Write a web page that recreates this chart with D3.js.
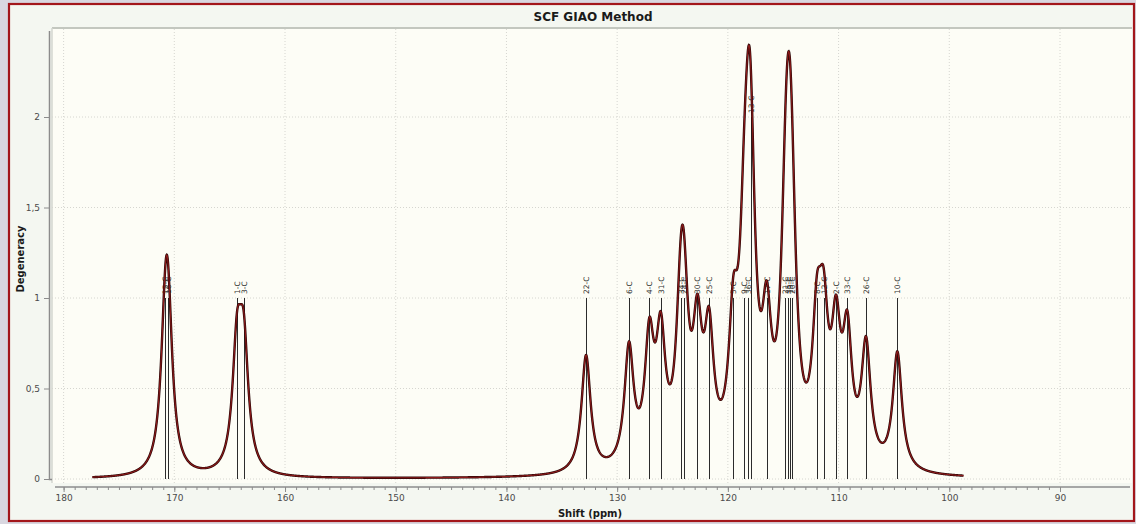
<!DOCTYPE html>
<html lang="en">
<head>
<meta charset="UTF-8">
<title>SCF GIAO Method</title>
<script src="https://cdn.jsdelivr.net/npm/d3@7/dist/d3.min.js"></script>
<style>
  html, body { margin: 0; padding: 0; background: #d9d7e0; }
  svg { display: block; font-family: "DejaVu Sans", Verdana, sans-serif; }
</style>
</head>
<body>
<div id="chart"></div>
<script>
// stick spectrum
const shifts = [170.80, 170.56, 164.33, 163.73, 132.81, 128.93, 127.09, 126.06, 124.26, 123.96,
                122.75, 121.70, 119.50, 118.55, 118.22, 117.95, 116.49, 114.82, 114.60, 114.40,
                114.21, 111.95, 111.35, 110.23, 109.21, 107.52, 104.69];
const labels = ["15-C", "16-C", "1-C", "3-C", "22-C", "6-C", "4-C", "31-C", "34-C", "24-C",
                "30-C", "25-C", "5-C", "9-C", "36-C", "13-C", "17-C", "21-C", "35-C", "19-C",
                "20-C", "8-C", "12-C", "2-C", "33-C", "26-C", "10-C"];
const degeneracy = [1, 1, 1, 1, 1, 1, 1, 1, 1, 1,
                    1, 1, 1, 1, 1, 2, 1, 1, 1, 1,
                    1, 1, 1, 1, 1, 1, 1];
const xTicks = [180, 170, 160, 150, 140, 130, 120, 110, 100, 90];
const yTicks = [0, 0.5, 1, 1.5, 2];

// lorentzian broadening used for the simulated curve
const peakHeight = 0.65;
const halfWidth = 0.5;
const curveFrom = 177.4, curveTo = 98.7;

const width = 1136, height = 524;
const plotLeft = 52, plotRight = 1132, plotTop = 28, plotBottom = 483;

const x = d3.scaleLinear().domain([180, 90]).range([63.6, 1060]);
const y = d3.scaleLinear().domain([0, 2]).range([479, 117]);

const svg = d3.select("#chart").append("svg")
    .attr("width", width)
    .attr("height", height);

// frame
svg.append("rect")
    .attr("x", 9).attr("y", 4)
    .attr("width", 1125).attr("height", 517)
    .attr("fill", "#f4f7f1")
    .attr("stroke", "#a3161b")
    .attr("stroke-width", 2.2);

svg.append("rect")
    .attr("x", plotLeft).attr("y", plotTop)
    .attr("width", plotRight - plotLeft).attr("height", plotBottom - plotTop)
    .attr("fill", "#fdfdf6");
svg.append("line")
    .attr("x1", plotLeft).attr("x2", plotRight)
    .attr("y1", plotTop).attr("y2", plotTop)
    .attr("stroke", "#c3c7bf").attr("stroke-width", 2);
svg.append("line")
    .attr("x1", plotLeft).attr("x2", plotLeft)
    .attr("y1", plotTop).attr("y2", plotBottom)
    .attr("stroke", "#d3d6cf").attr("stroke-width", 1.5);

svg.append("text")
    .attr("x", 593).attr("y", 21)
    .attr("text-anchor", "middle")
    .attr("font-weight", "bold")
    .attr("font-size", 12)
    .attr("fill", "#1a1a1a")
    .text("SCF GIAO Method");

// grid
const grid = svg.append("g")
    .attr("stroke", "#d6d6d0")
    .attr("stroke-dasharray", "1,2");
grid.selectAll(".gx").data(xTicks).join("line")
    .attr("x1", d => x(d)).attr("x2", d => x(d))
    .attr("y1", plotTop + 1).attr("y2", plotBottom);
grid.selectAll(".gy").data(yTicks).join("line")
    .attr("x1", plotLeft).attr("x2", plotRight)
    .attr("y1", d => y(d)).attr("y2", d => y(d));

// y axis
svg.append("g")
    .attr("transform", "translate(50,0)")
    .call(d3.axisLeft(y).tickValues(yTicks).tickSize(6).tickPadding(4)
        .tickFormat(d => String(d).replace(".", ",")))
    .call(g => g.select(".domain").attr("d", `M-0.5,31V479.5H2`).attr("stroke", "#8c8c8c").attr("stroke-width", 1.5))
    .call(g => g.selectAll(".tick line").attr("stroke", "#8c8c8c"))
    .call(g => g.selectAll(".tick text").attr("fill", "#4a4a4a").attr("font-size", 9)
        .attr("font-family", "DejaVu Sans"));

svg.append("text")
    .attr("transform", "translate(24,259) rotate(-90)")
    .attr("text-anchor", "middle")
    .attr("font-weight", "bold")
    .attr("font-size", 10)
    .attr("fill", "#1a1a1a")
    .text("Degeneracy");

// x axis
const xAxis = svg.append("g")
    .attr("transform", "translate(0,487)");
xAxis.append("line")
    .attr("x1", 55).attr("x2", 1130)
    .attr("stroke", "#8c8c8c").attr("stroke-width", 1.5);
xAxis.call(d3.axisBottom(x).ticks(90).tickSize(3).tickFormat(""))
    .call(g => g.select(".domain").remove())
    .call(g => g.selectAll(".tick line").attr("stroke", "#8c8c8c"));
xAxis.append("g")
    .call(d3.axisBottom(x).tickValues(xTicks).tickSize(5).tickPadding(3))
    .call(g => g.select(".domain").remove())
    .call(g => g.selectAll(".tick line").attr("stroke", "#8c8c8c"))
    .call(g => g.selectAll(".tick text").attr("fill", "#4a4a4a").attr("font-size", 9)
        .attr("font-family", "DejaVu Sans"));
// remove minor ticks outside plot
xAxis.selectAll(".tick").filter(d => d > 181 || d < 84).remove();

svg.append("text")
    .attr("x", 590).attr("y", 517)
    .attr("text-anchor", "middle")
    .attr("font-weight", "bold")
    .attr("font-size", 10)
    .attr("fill", "#1a1a1a")
    .text("Shift (ppm)");

// sticks
const sticks = shifts.map((s, i) => ({shift: s, label: labels[i], deg: degeneracy[i]}));

svg.append("g")
    .selectAll("line")
    .data(sticks)
    .join("line")
    .attr("x1", d => Math.round(x(d.shift)) + 0.5)
    .attr("x2", d => Math.round(x(d.shift)) + 0.5)
    .attr("y1", y(0))
    .attr("y2", d => y(d.deg))
    .attr("stroke", "#2b2b2b")
    .attr("stroke-width", 1);

svg.append("g")
    .selectAll("text")
    .data(sticks)
    .join("text")
    .attr("transform", d => `translate(${Math.round(x(d.shift)) + 3},${y(d.deg) - 4}) rotate(-90)`)
    .attr("font-size", 7.5)
    .attr("fill", "#333")
    .text(d => d.label);

// simulated curve
const samples = d3.range(curveFrom, curveTo, -0.02).map(p => {
    const v = d3.sum(sticks, d => d.deg * peakHeight * halfWidth * halfWidth /
        ((p - d.shift) * (p - d.shift) + halfWidth * halfWidth));
    return [p, v];
});
const line = d3.line().x(d => x(d[0])).y(d => y(d[1]));

svg.append("path")
    .datum(samples)
    .attr("fill", "none")
    .attr("stroke", "#2a0606")
    .attr("stroke-width", 2.4)
    .attr("d", line);
svg.append("path")
    .datum(samples)
    .attr("fill", "none")
    .attr("stroke", "#8e1a1a")
    .attr("stroke-width", 1.1)
    .attr("d", line);
</script>
</body>
</html>
